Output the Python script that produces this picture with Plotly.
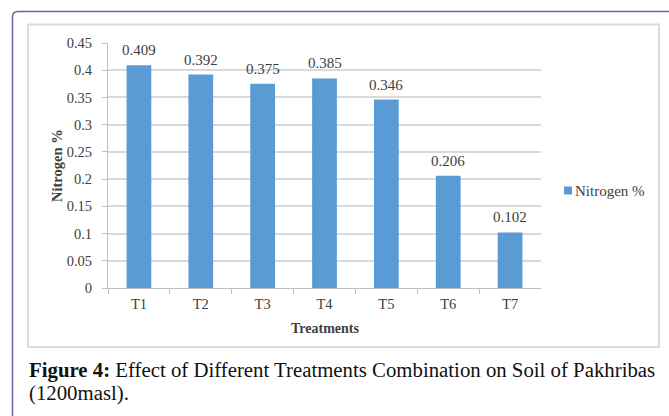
import plotly.graph_objects as go

# Nitrogen content of soil per treatment
treatments = ["T1", "T2", "T3", "T4", "T5", "T6", "T7"]
nitrogen = [0.409, 0.392, 0.375, 0.385, 0.346, 0.206, 0.102]
y_ticks = [0, 0.05, 0.1, 0.15, 0.2, 0.25, 0.3, 0.35, 0.4, 0.45]
y_tick_text = ["0", "0.05", "0.1", "0.15", "0.2", "0.25", "0.3", "0.35", "0.4", "0.45"]
series_name = "Nitrogen %"

W, H = 669, 416
SERIF = "Liberation Serif"
BAR = "#5b9bd5"
GRID = "#d9d9d9"
TXT = "#404040"


def px(x):
    return x / W


def py(y):
    return 1 - y / H


fig = go.Figure()
fig.add_trace(go.Bar(
    x=treatments,
    y=nitrogen,
    name=series_name,
    marker=dict(color=BAR, line=dict(width=0)),
    hoverinfo="skip",
    showlegend=False,
))

shapes = [
    # outer frame with a rounded top-left corner
    dict(type="path", xref="paper", yref="paper",
         path=(f"M {px(12.5)} {py(420)} L {px(12.5)} {py(17)} "
               f"Q {px(12.5)} {py(11.5)} {px(18)} {py(11.5)} L {px(672)} {py(11.5)}"),
         line=dict(color="#6b62a8", width=1.5)),
    # chart area border
    dict(type="rect", xref="paper", yref="paper",
         x0=px(28), x1=px(659), y0=py(347), y1=py(24.5),
         line=dict(color="#dcdcdc", width=2)),
    # legend swatch
    dict(type="rect", xref="paper", yref="paper",
         x0=px(564), x1=px(572), y0=py(194.5), y1=py(186.5),
         fillcolor=BAR, line=dict(width=0)),
]

# value labels above each bar
annotations = [
    dict(x=t, y=v, xref="x", yref="y", text=f"{v:.3f}", showarrow=False,
         yanchor="middle", yshift=15,
         font=dict(family=SERIF, size=15, color=TXT))
    for t, v in zip(treatments, nitrogen)
]

annotations += [
    # legend label
    dict(text=series_name, xref="paper", yref="paper", x=px(573), y=py(191),
         xanchor="left", yanchor="middle", showarrow=False,
         font=dict(family=SERIF, size=15, color=TXT)),
    # axis titles
    dict(text="<b>Treatments</b>", xref="paper", yref="paper", x=px(324.5), y=py(328),
         xanchor="center", yanchor="middle", showarrow=False,
         font=dict(family=SERIF, size=14, color=TXT)),
    dict(text="<b>Nitrogen %</b>", xref="paper", yref="paper", x=px(57), y=py(166),
         xanchor="center", yanchor="middle", showarrow=False, textangle=-90,
         font=dict(family=SERIF, size=14.5, color=TXT)),
    # figure caption
    dict(text="<b>Figure 4:</b> Effect of Different Treatments Combination on Soil of Pakhribas",
         xref="paper", yref="paper", x=px(27), y=py(370), xanchor="left", yanchor="middle",
         align="left", showarrow=False,
         font=dict(family=SERIF, size=20.8, color="#111111")),
    dict(text="(1200masl).",
         xref="paper", yref="paper", x=px(27), y=py(393), xanchor="left", yanchor="middle",
         align="left", showarrow=False,
         font=dict(family=SERIF, size=20.8, color="#111111")),
]

fig.update_layout(
    width=W, height=H,
    margin=dict(l=0, r=0, t=0, b=0, pad=0, autoexpand=False),
    paper_bgcolor="white",
    plot_bgcolor="white",
    bargap=0.6,
    showlegend=False,
    xaxis=dict(
        domain=[px(108), px(541)],
        automargin=False,
        showgrid=False,
        showline=True, linecolor="#bfbfbf", linewidth=1,
        ticks="outside", tickson="boundaries", ticklen=5, tickcolor="#bfbfbf",
        ticklabelstandoff=3,
        tickfont=dict(family=SERIF, size=14.5, color=TXT),
    ),
    yaxis=dict(
        domain=[py(288), py(43)],
        automargin=False,
        range=[0, 0.45],
        tickvals=y_ticks, ticktext=y_tick_text,
        showgrid=True, gridcolor=GRID, gridwidth=1.5,
        zeroline=False,
        showline=True, linecolor="#bfbfbf", linewidth=1,
        ticks="outside", ticklen=5, tickcolor="#bfbfbf",
        ticklabelstandoff=7,
        tickfont=dict(family=SERIF, size=14.5, color=TXT),
    ),
    shapes=shapes,
    annotations=annotations,
)

fig.write_html("out.html")
